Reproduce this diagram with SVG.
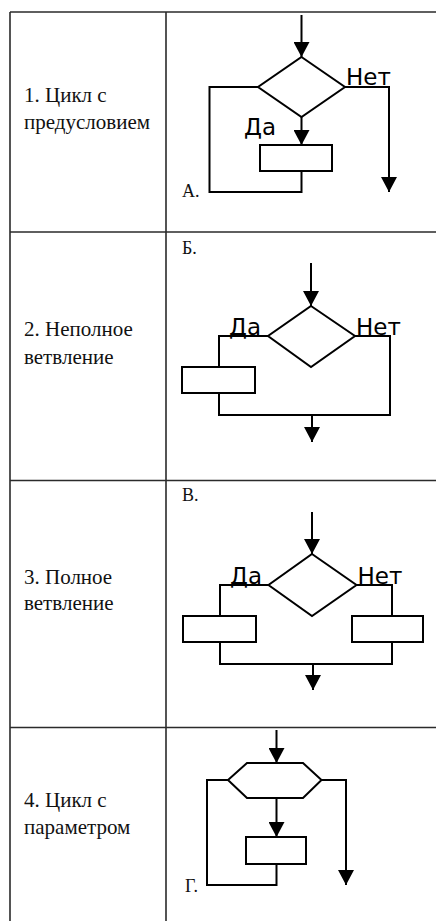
<svg xmlns="http://www.w3.org/2000/svg" width="436" height="921" viewBox="0 0 436 921">
<style>
.grid{stroke:#2b2b2b;stroke-width:1.6;fill:none}
.ln{stroke:#000;stroke-width:2;fill:none}
.shape{stroke:#000;stroke-width:2;fill:#fff}
.lbl{font-family:"Liberation Serif","Times New Roman",serif;font-size:21px;fill:#111}
.tag{font-family:"Liberation Serif","Times New Roman",serif;font-size:18px;fill:#111}
.yn{font-family:"DejaVu Sans",Verdana,sans-serif;font-size:23px;fill:#000}
</style>
<defs>
<marker id="ah" markerUnits="userSpaceOnUse" viewBox="0 0 15 16" markerWidth="15" markerHeight="16" refX="15" refY="8" orient="auto">
<path d="M0,0 L15,8 L0,16 Z" fill="#000"/>
</marker>
</defs>
<rect width="436" height="921" fill="#fff"/>
<g id="table">
<path class="grid" d="M10,12 H436 M10,12 V921 M166,12 V921 M10,232 H436 M10,480.5 H436 M10,727.5 H436"/>
<text class="lbl" x="24" y="101.5">1. Цикл с</text>
<text class="lbl" x="24" y="128.5">предусловием</text>
<text class="lbl" x="24" y="336">2. Неполное</text>
<text class="lbl" x="24" y="364">ветвление</text>
<text class="lbl" x="24" y="584">3. Полное</text>
<text class="lbl" x="24" y="610">ветвление</text>
<text class="lbl" x="24" y="807">4. Цикл с</text>
<text class="lbl" x="24" y="833.5">параметром</text>
<text class="tag" x="182" y="197">А.</text>
<text class="tag" x="182" y="254">Б.</text>
<text class="tag" x="182" y="501">В.</text>
<text class="tag" x="185" y="892">Г.</text>
</g>
<g id="connectors">
<path class="ln" d="M301.5,15 V57" marker-end="url(#ah)"/>
<path class="ln" d="M345,87 H389 V192" marker-end="url(#ah)"/>
<path class="ln" d="M301.5,117 V145" marker-end="url(#ah)"/>
<path class="ln" d="M301.5,171 V192 H209.5 V87 H258"/>
<path class="ln" d="M311,263 V306" marker-end="url(#ah)"/>
<path class="ln" d="M268,336 H219 V367"/>
<path class="ln" d="M219,393 V415 H390 V336 H355"/>
<path class="ln" d="M312,415 V442" marker-end="url(#ah)"/>
<path class="ln" d="M312,512 V554" marker-end="url(#ah)"/>
<path class="ln" d="M268.5,585 H220 V616"/>
<path class="ln" d="M356.5,585 H392 V616"/>
<path class="ln" d="M220,642 V664 H392 V642"/>
<path class="ln" d="M313,664 V690" marker-end="url(#ah)"/>
<path class="ln" d="M276.5,730 V763" marker-end="url(#ah)"/>
<path class="ln" d="M276.5,798 V837" marker-end="url(#ah)"/>
<path class="ln" d="M276.5,864 V885 H207 V780 H228"/>
<path class="ln" d="M321.5,780 H346 V885" marker-end="url(#ah)"/>
</g>
<g id="d1">
<polygon class="shape" points="301.5,57 345,87 301.5,117 258,87"/>
<text class="yn" x="346" y="85">Нет</text>
<text class="yn" x="244" y="135">Да</text>
</g>
<g id="r1"><rect class="shape" x="260" y="145" width="72" height="26"/></g>
<g id="d2">
<polygon class="shape" points="311,306 355,336 311,367 268,336"/>
<text class="yn" x="229" y="335">Да</text>
<text class="yn" x="356" y="335">Нет</text>
</g>
<g id="r2"><rect class="shape" x="182" y="367" width="73" height="26"/></g>
<g id="d3">
<polygon class="shape" points="312,554 356.5,585 312,616 268.5,585"/>
<text class="yn" x="230" y="584">Да</text>
<text class="yn" x="357.5" y="584">Нет</text>
</g>
<g id="r3a"><rect class="shape" x="183" y="616" width="73" height="26"/></g>
<g id="r3b"><rect class="shape" x="352" y="616" width="71" height="26"/></g>
<g id="h4"><polygon class="shape" points="247,763 303,763 321.5,780 303,798 247,798 228,780"/></g>
<g id="r4"><rect class="shape" x="246" y="837" width="60" height="27"/></g>
</svg>
